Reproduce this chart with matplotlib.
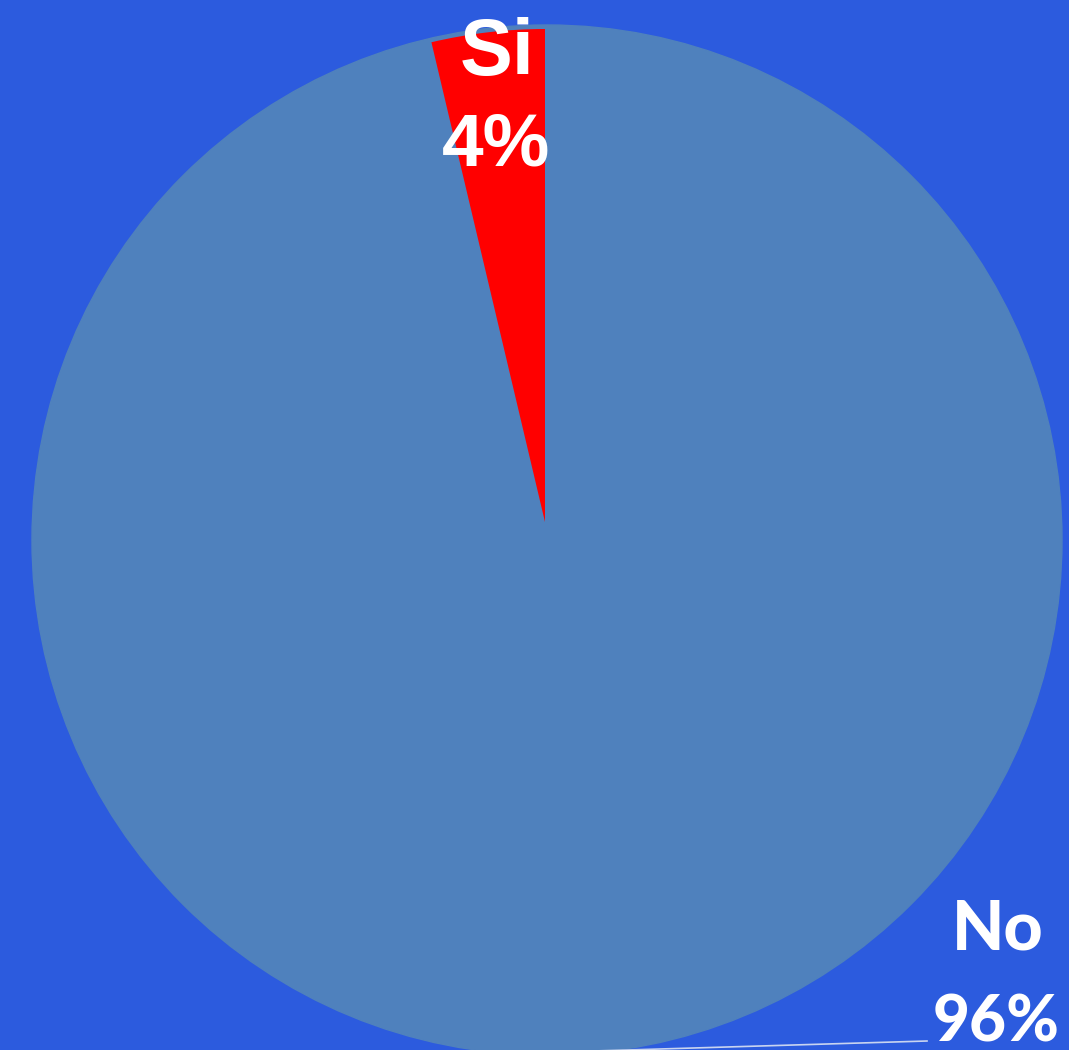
import matplotlib.pyplot as plt
from matplotlib.patches import Circle

# data
labels = ["Si", "No"]
values = [3.7, 96.3]
colors = ["#FF0000", "#4F81BD"]

W, H = 1069, 1050
fig = plt.figure(figsize=(W / 100, H / 100), dpi=100)
fig.patch.set_facecolor("#2C5BDE")
ax = fig.add_axes([0, 0, 1, 1])

# full blue disc behind the slices
ax.add_patch(Circle((547, H - 540), 515, color=colors[1], zorder=0))

wedges, _ = ax.pie(values, colors=colors, startangle=90, counterclock=True,
                   center=(547, H - 540), radius=515, frame=True,
                   wedgeprops=dict(linewidth=0))
# the Si slice sits a bit higher and is a bit shorter
wedges[0].set_center((545, H - 522))
wedges[0].set_radius(493)
wedges[0].set_zorder(2)
ax.set_xlim(0, W)
ax.set_ylim(0, H)
ax.set_aspect("equal")
ax.axis("off")

tot = sum(values)
pcts = [f"{round(v / tot * 100)}%" for v in values]

# Si label
ax.text(497, H - 75, labels[0], color="white", fontsize=57, fontweight="bold",
        family="Liberation Sans", ha="center", va="baseline", zorder=5)
ax.text(496, H - 165, pcts[0], color="white", fontsize=54, fontweight="bold",
        family="Liberation Sans", ha="center", va="baseline", zorder=5)

# No label with leader line
ax.plot([560, 927], [H - 1052, H - 1041], color="#C8D4F0", lw=1.2, zorder=4,
        clip_on=False)
ax.text(998, H - 950, labels[1], color="white", fontsize=49, fontweight=900,
        family="Lato", ha="center", va="baseline", zorder=5)
ax.text(996, H - 1041, pcts[1], color="white", fontsize=46, fontweight=900,
        family="Lato", ha="center", va="baseline", zorder=5)

fig.savefig("out.png", dpi=100, facecolor=fig.get_facecolor())
